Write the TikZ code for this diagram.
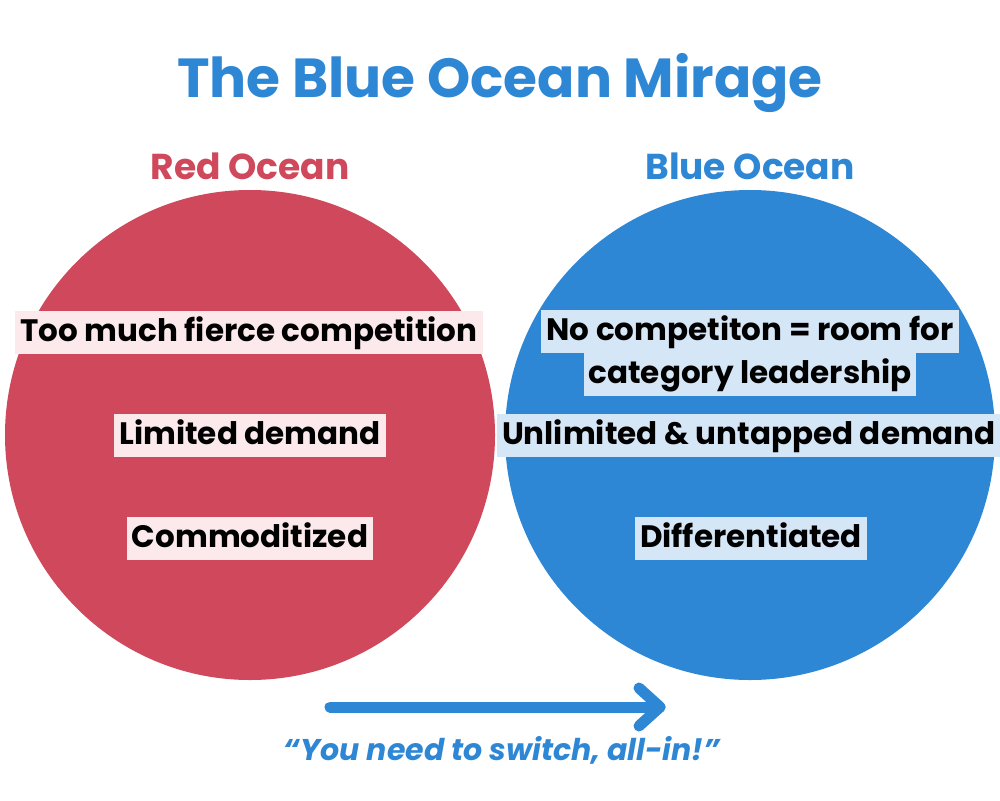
\documentclass[tikz,border=0pt]{standalone}
\usepackage{fontspec}
\setmainfont{Poppins}
\usetikzlibrary{calc}
\definecolor{oRed}{HTML}{CF485B}
\definecolor{oBlue}{HTML}{2E87D5}
\definecolor{pinkBox}{HTML}{FBE9EC}
\definecolor{blueBox}{HTML}{D5E6F6}
\tikzset{
  lbl/.style={font=\fontsize{31}{36}\selectfont\bfseries, text=black, inner xsep=5pt, inner ysep=0pt, minimum height=43pt, text height=24pt, text depth=6pt},
  redlbl/.style={lbl, fill=pinkBox},
  bluelbl/.style={lbl, fill=blueBox},
  head/.style={font=\fontsize{36}{42}\selectfont\bfseries},
  arrowline/.style={draw=oBlue, line width=11pt, line cap=round, line join=round}
}
\begin{document}
\begin{tikzpicture}[x=1pt,y=-1pt]
\useasboundingbox[fill=white] (0,0) rectangle (1000,800);
\node[font=\fontsize{55}{62}\selectfont\bfseries, text=oBlue] (title) at (500,83) {The Blue Ocean Mirage};
\node[head, text=oRed] (rh) at (250,166) {Red Ocean};
\node[head, text=oBlue] (bh) at (750,166) {Blue Ocean};
\fill[oRed] (250,435) circle[radius=245pt];
\fill[oBlue] (750,435) circle[radius=245pt];
\node[redlbl] (r1) at (249,332) {Too much fierce competition};
\node[redlbl] (r2) at (250,435) {Limited demand};
\node[redlbl] (r3) at (250,538) {Commoditized};
\node[bluelbl] (b1a) at (750,331) {No competiton = room for};
\node[bluelbl] (b1b) at (750,374) {category leadership};
\node[bluelbl] (b2) at (749,435) {Unlimited \& untapped demand};
\node[bluelbl] (b3) at (751,538) {Differentiated};
\coordinate (aS) at (330,707);
\coordinate (aE) at (660,707);
\draw[arrowline] (aS) -- (aE);
\draw[arrowline] ($(aE)+(-21,-19)$) -- (aE) -- ($(aE)+(-21,19)$);
\node[font=\fontsize{30}{36}\selectfont\bfseries\itshape, text=oBlue] (cap) at (502,750) {“You need to switch, all-in!”};
\end{tikzpicture}
\end{document}
